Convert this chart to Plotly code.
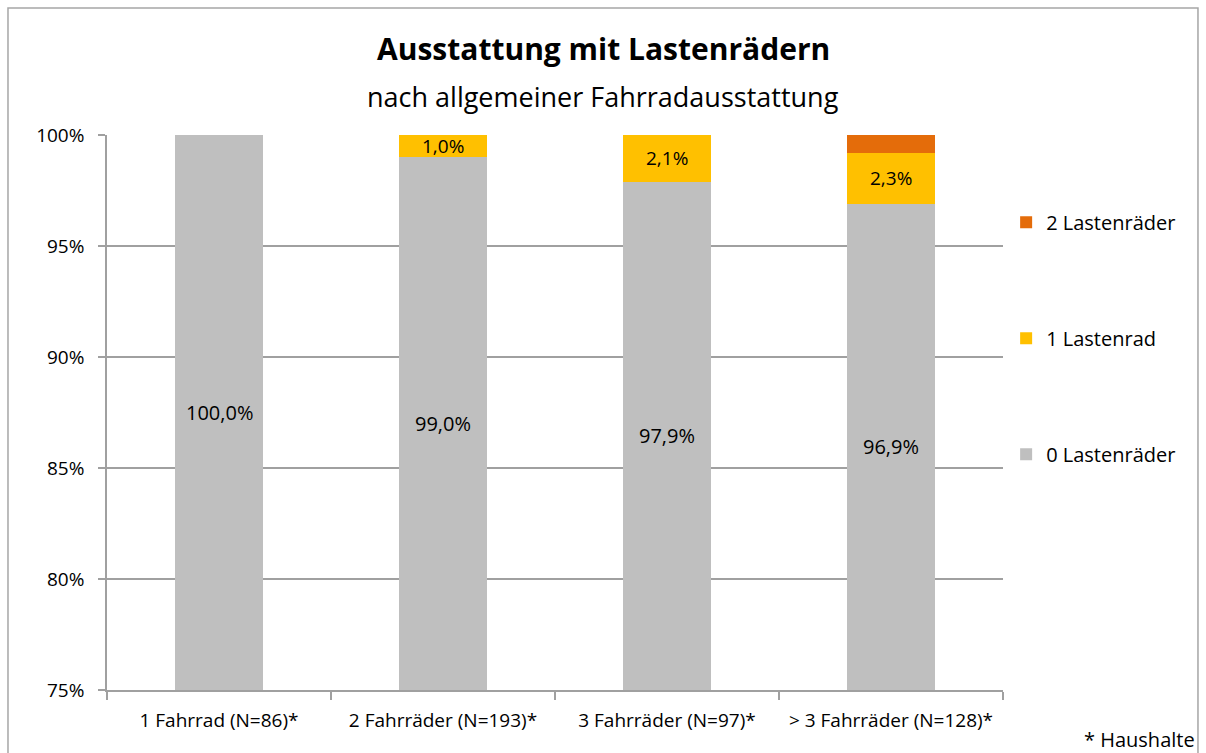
import plotly.graph_objects as go

categories = ["1 Fahrrad (N=86)*", "2 Fahrräder (N=193)*", "3 Fahrräder (N=97)*", "> 3 Fahrräder (N=128)*"]
series_names = ["0 Lastenräder", "1 Lastenrad", "2 Lastenräder"]
values_0 = [100.0, 99.0, 97.9, 96.9]
values_1 = [0.0, 1.0, 2.1, 2.3]
values_2 = [0.0, 0.0, 0.0, 0.8]
colors = ["#BFBFBF", "#FFC000", "#E46C0A"]
y_min, y_max = 75, 100
y_ticks = [75, 80, 85, 90, 95, 100]

FONT = "'Open Sans', Lato, sans-serif"

fig = go.Figure()
for i, (name, vals) in enumerate(zip(series_names, [values_0, values_1, values_2])):
    fig.add_trace(go.Bar(
        x=categories, y=vals, name=name, marker_color=colors[i],
        marker_line_width=0, legendgroup=name, legendrank=10 - i, hoverinfo="skip",
    ))

# data labels
annotations = []
for j, c in enumerate(categories):
    v0 = values_0[j]
    annotations.append(dict(x=c, y=(y_min + v0) / 2, xref="x", yref="y",
                            text=f"{v0:.1f}".replace(".", ",") + "%", showarrow=False,
                            font=dict(size=20, color="#000000", family=FONT)))
    v1 = values_1[j]
    if v1 > 0:
        annotations.append(dict(x=c, y=v0 + v1 / 2, xref="x", yref="y",
                                text=f"{v1:.1f}".replace(".", ",") + "%", showarrow=False,
                                font=dict(size=19, color="#000000", family=FONT)))

annotations.append(dict(x=0.5, y=1.155, xref="paper", yref="paper",
                        text="<b>Ausstattung mit Lastenrädern</b>", showarrow=False,
                        font=dict(size=30, color="#000000", family=FONT), xanchor="center", yanchor="middle",
                        xshift=48))
annotations.append(dict(x=0.5, y=1.07, xref="paper", yref="paper",
                        text="nach allgemeiner Fahrradausstattung", showarrow=False,
                        font=dict(size=27, color="#000000", family=FONT), xanchor="center", yanchor="middle",
                        xshift=48))
annotations.append(dict(x=1.216, y=-0.09, xref="paper", yref="paper",
                        text="* Haushalte", showarrow=False,
                        font=dict(size=20, color="#000000", family=FONT), xanchor="right", yanchor="middle"))

fig.update_layout(
    barmode="stack",
    width=1206, height=753,
    margin=dict(l=107, r=203, t=135, b=63),
    paper_bgcolor="white", plot_bgcolor="white",
    separators=",.",
    font=dict(family=FONT, size=17, color="#000000"),
    bargap=0.605,
    showlegend=True,
    legend=dict(x=1.0035, y=0.878, xanchor="left", yanchor="top",
                traceorder="grouped", tracegroupgap=87,
                font=dict(size=20, family=FONT), itemwidth=30,
                bgcolor="rgba(0,0,0,0)"),
    annotations=annotations,
    shapes=[dict(type="rect", xref="paper", yref="paper",
                 x0=-0.1105, x1=1.2176, y0=-0.2, y1=1.2288,
                 line=dict(color="#A6A6A6", width=1.5), fillcolor="rgba(0,0,0,0)", layer="below")],
)
fig.update_yaxes(range=[y_min, y_max], tickvals=y_ticks, ticktext=[f"{t}%" for t in y_ticks],
                 showgrid=True, gridcolor="#A0A0A0", gridwidth=1.5,
                 showline=True, linecolor="#A0A0A0", linewidth=1.5,
                 ticks="outside", ticklen=7, tickcolor="#A0A0A0", tickwidth=1.5,
                 ticklabelstandoff=10, zeroline=False,
                 tickfont=dict(size=19, family=FONT))
fig.update_xaxes(showline=True, linecolor="#A0A0A0", linewidth=1.5,
                 ticks="outside", tickson="boundaries", ticklen=8, tickcolor="#A0A0A0", tickwidth=1.5,
                 ticklabelstandoff=12,
                 tickfont=dict(size=19, family=FONT))

fig.write_html("out.html", config={"displayModeBar": False},
               post_script="document.body.style.margin='0px';")
